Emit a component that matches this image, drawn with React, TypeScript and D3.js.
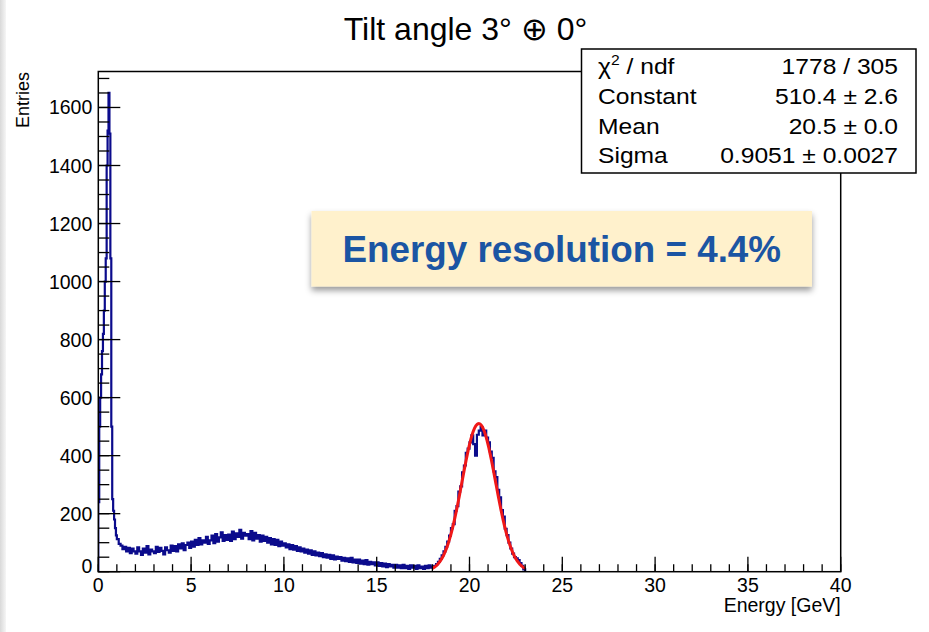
import React from "react";
import * as d3 from "d3";

// ---- chart text ----
const TITLE = "Tilt angle 3° ⊕ 0°";
const X_LABEL = "Energy [GeV]";
const Y_LABEL = "Entries";
const ANNOTATION = "Energy resolution = 4.4%";

// ---- axes ----
const X_DOMAIN = [0, 40];
const Y_DOMAIN = [0, 1724];
const X_MAJOR = [0, 5, 10, 15, 20, 25, 30, 35, 40];
const X_MINOR = d3.range(0, 41, 1);
const Y_MAJOR = [0, 200, 400, 600, 800, 1000, 1200, 1400, 1600];
const Y_MINOR = d3.range(0, 1701, 50);

// ---- histogram: narrow bins over the low-energy spike ----
const FINE_START = 0;
const FINE_WIDTH = 0.05;
const fineCounts = [
  240, 500, 600, 680, 760, 820, 900, 1000, 1080, 1400,
  1520, 1650, 1510, 1080, 500, 250, 210, 180, 150, 125,
];

// ---- histogram: 0.1 GeV bins from 1 to 23 GeV (one row per GeV) ----
const COARSE_START = 1.0;
const COARSE_WIDTH = 0.1;
const coarseCounts = [
  112, 96, 90, 78, 86, 70, 82, 64, 80, 70, // 1
  62, 84, 70, 58, 80, 66, 88, 60, 76, 70, // 2
  64, 86, 68, 82, 72, 60, 84, 74, 66, 90, // 3
  72, 88, 70, 94, 80, 98, 74, 92, 100, 82, // 4
  104, 86, 110, 92, 116, 94, 108, 100, 120, 96, // 5
  108, 124, 98, 130, 104, 118, 136, 106, 126, 110, // 6
  128, 106, 138, 112, 132, 120, 144, 114, 134, 124, // 7
  130, 112, 140, 108, 134, 114, 126, 104, 124, 106, // 8
  120, 100, 116, 94, 112, 92, 110, 88, 104, 90, // 9
  98, 84, 94, 78, 92, 76, 88, 72, 84, 70, // 10
  80, 66, 76, 62, 74, 58, 70, 56, 66, 54, // 11
  64, 50, 60, 48, 58, 44, 56, 42, 52, 44, // 12
  50, 38, 48, 36, 46, 34, 48, 32, 42, 30, // 13
  42, 28, 38, 26, 40, 24, 34, 26, 32, 22, // 14
  32, 20, 30, 18, 28, 16, 26, 18, 24, 14, // 15
  24, 14, 22, 12, 24, 12, 20, 10, 22, 14, // 16
  20, 10, 22, 12, 18, 10, 20, 12, 22, 14, // 17
  18, 20, 26, 34, 44, 56, 70, 86, 104, 124, // 18
  150, 164, 210, 226, 276, 294, 342, 366, 410, 424, // 19
  446, 470, 440, 400, 472, 486, 498, 470, 486, 462, // 20
  446, 414, 392, 346, 326, 282, 256, 212, 190, 148, // 21
  126, 100, 80, 62, 50, 46, 40, 30, 20, 8, // 22
];

// ---- Gaussian fit result ----
const FIT_CONSTANT = 510.4;
const FIT_MEAN = 20.5;
const FIT_SIGMA = 0.9051;
const FIT_RANGE = [18, 23];

// ---- statistics box ----
const statLabels = ["Constant", "Mean", "Sigma"];
const statValues = ["510.4 ± 2.6", "20.5 ± 0.0", "0.9051 ± 0.0027"];
const CHI2_VALUE = "1778 / 305";

const FONT = "'Liberation Sans', Arial, Helvetica, sans-serif";

export default function App() {
  const W = 929;
  const H = 632;
  const plot = { left: 98.3, right: 840.7, top: 71.5, bottom: 571.7 };

  const x = d3.scaleLinear().domain(X_DOMAIN).range([plot.left, plot.right]);
  const y = d3.scaleLinear().domain(Y_DOMAIN).range([plot.bottom, plot.top]);

  // Build bins from both arrays
  const bins: { x0: number; x1: number; v: number }[] = [];
  fineCounts.forEach((v, i) =>
    bins.push({ x0: FINE_START + i * FINE_WIDTH, x1: FINE_START + (i + 1) * FINE_WIDTH, v })
  );
  coarseCounts.forEach((v, i) =>
    bins.push({ x0: COARSE_START + i * COARSE_WIDTH, x1: COARSE_START + (i + 1) * COARSE_WIDTH, v })
  );

  // Step outline of the histogram
  const pts: [number, number][] = [[bins[0].x0, 0]];
  bins.forEach((b) => {
    pts.push([b.x0, b.v]);
    pts.push([b.x1, b.v]);
  });
  pts.push([bins[bins.length - 1].x1, 0]);
  const histPath = d3
    .line<[number, number]>()
    .x((d) => x(d[0]))
    .y((d) => y(d[1]))(pts);

  // Fit curve sampled over its range
  const fitPts: [number, number][] = d3
    .range(FIT_RANGE[0], FIT_RANGE[1] + 1e-9, 0.02)
    .map((e) => [
      e,
      FIT_CONSTANT * Math.exp(-((e - FIT_MEAN) ** 2) / (2 * FIT_SIGMA * FIT_SIGMA)),
    ]);
  const fitPath = d3
    .line<[number, number]>()
    .x((d) => x(d[0]))
    .y((d) => y(d[1]))(fitPts);

  const statsBox = { x: 581.5, y: 49, w: 334.5, h: 124 };
  const rowBase = [74, 104, 134, 163];
  const STAT_FS = 22;
  const STAT_STRETCH = 1.12;

  const note = { x: 311.5, y: 211, w: 500.5, h: 75.5 };

  return (
    <svg
      width={W}
      height={H}
      style={{ position: "absolute", left: 0, top: 0, background: "#fff" }}
      fontFamily={FONT}
    >
      <defs>
        <linearGradient id="edge" x1="0" x2="1" y1="0" y2="0">
          <stop offset="0" stopColor="#d9d9d9" />
          <stop offset="1" stopColor="#f6f6f6" />
        </linearGradient>
        <filter id="noteShadow" x="-5%" y="-20%" width="110%" height="150%">
          <feDropShadow dx="0" dy="4" stdDeviation="3" floodColor="#000" floodOpacity="0.4" />
        </filter>
        <clipPath id="plotClip">
          <rect x={plot.left} y={plot.top} width={plot.right - plot.left} height={plot.bottom - plot.top} />
        </clipPath>
      </defs>

      <rect x={0} y={0} width={W} height={H} fill="#fff" />
      <rect x={0} y={0} width={6} height={H} fill="url(#edge)" />

      {/* title */}
      <text x={465.5} y={40} textAnchor="middle" fontSize={32} fill="#000">
        {TITLE}
      </text>

      {/* data */}
      <g clipPath="url(#plotClip)">
        <path d={histPath ?? ""} fill="none" stroke="#0b0b8c" strokeWidth={2.2} strokeLinejoin="miter" />
        <path d={fitPath ?? ""} fill="none" stroke="#f01818" strokeWidth={3} strokeLinejoin="round" />
      </g>

      {/* ticks */}
      <g stroke="#000" strokeWidth={1.3}>
        {Y_MINOR.map((v) => (
          <line key={"ym" + v} x1={plot.left} x2={plot.left + 11} y1={y(v)} y2={y(v)} />
        ))}
        {Y_MAJOR.map((v) => (
          <line key={"yM" + v} x1={plot.left} x2={plot.left + 22} y1={y(v)} y2={y(v)} />
        ))}
        {X_MINOR.map((v) => (
          <line key={"xm" + v} x1={x(v)} x2={x(v)} y1={plot.bottom} y2={plot.bottom - 7.5} />
        ))}
        {X_MAJOR.map((v) => (
          <line key={"xM" + v} x1={x(v)} x2={x(v)} y1={plot.bottom} y2={plot.bottom - 15} />
        ))}
      </g>

      {/* frame */}
      <rect
        x={plot.left}
        y={plot.top}
        width={plot.right - plot.left}
        height={plot.bottom - plot.top}
        fill="none"
        stroke="#000"
        strokeWidth={1.5}
      />

      {/* tick labels */}
      <g fontSize={19.5} fill="#000">
        {Y_MAJOR.map((v) => (
          <text
            key={"yl" + v}
            x={plot.left - 6}
            y={y(v) + (v === 0 ? -6 : 0)}
            textAnchor="end"
            dominantBaseline="central"
          >
            {v}
          </text>
        ))}
        {X_MAJOR.map((v) => (
          <text key={"xl" + v} x={x(v)} y={592} textAnchor="middle">
            {v}
          </text>
        ))}
      </g>

      {/* axis titles */}
      <text x={plot.right} y={612} textAnchor="end" fontSize={19.5} fill="#000">
        {X_LABEL}
      </text>
      <text transform={`translate(29,72) rotate(-90)`} textAnchor="end" fontSize={18} fill="#000">
        {Y_LABEL}
      </text>

      {/* statistics box */}
      <rect
        x={statsBox.x}
        y={statsBox.y}
        width={statsBox.w}
        height={statsBox.h}
        fill="#fff"
        stroke="#000"
        strokeWidth={1.5}
      />
      <g fontSize={STAT_FS} fill="#000">
        <g transform={`translate(598,0) scale(${STAT_STRETCH},1)`}>
          <text x={0} y={rowBase[0]}>
            χ<tspan fontSize={14} dy={-9}>2</tspan>
            <tspan dy={9}> / ndf</tspan>
          </text>
          {statLabels.map((lab, i) => (
            <text key={lab} x={0} y={rowBase[i + 1]}>
              {lab}
            </text>
          ))}
        </g>
        <g transform={`translate(898,0) scale(${STAT_STRETCH},1)`}>
          <text x={0} y={rowBase[0]} textAnchor="end">
            {CHI2_VALUE}
          </text>
          {statValues.map((val, i) => (
            <text key={val} x={0} y={rowBase[i + 1]} textAnchor="end">
              {val}
            </text>
          ))}
        </g>
      </g>

      {/* annotation */}
      <rect x={note.x} y={note.y} width={note.w} height={note.h} fill="#fff1cc" filter="url(#noteShadow)" />
      <text
        x={note.x + note.w / 2}
        y={262}
        textAnchor="middle"
        fontSize={36.8}
        fontWeight="bold"
        fill="#1b55a3"
      >
        {ANNOTATION}
      </text>
    </svg>
  );
}
